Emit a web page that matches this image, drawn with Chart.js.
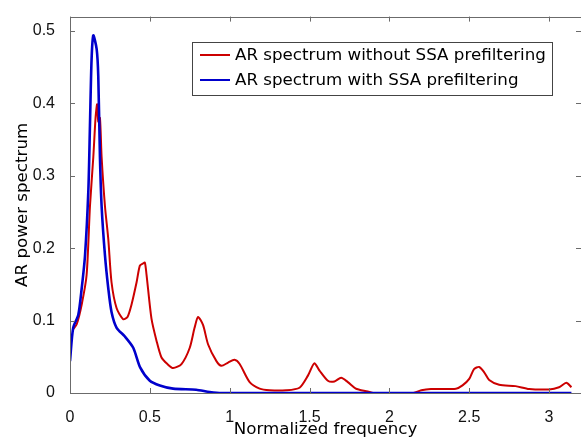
<!DOCTYPE html>
<html>
<head>
<meta charset="utf-8">
<script src="https://cdn.jsdelivr.net/npm/chart.js@4"></script>
<style>
html,body{margin:0;padding:0;background:#fff;}
#wrap{width:581px;height:440px;}
</style>
</head>
<body>
<div id="wrap"><canvas id="spec" width="581" height="440"></canvas></div>
<script>
// red: AR spectrum without SSA prefiltering
let redFreq=[0.02,0.042,0.073,0.104,0.125,0.146,0.16,0.17,0.177,0.1875,0.198,0.219,0.24,0.26,0.292,0.333,0.36,0.385,0.417,0.4375,0.458,0.469,0.479,0.51,0.542,0.573,0.61,0.646,0.698,0.75,0.78,0.802,0.833,0.865,0.917,0.948,0.99,1.03,1.0625,1.125,1.1875,1.25,1.354,1.4375,1.49,1.53,1.5625,1.615,1.656,1.698,1.74,1.79,1.8125,1.865,1.9,2.15,2.2,2.26,2.417,2.458,2.5,2.53,2.5625,2.594,2.625,2.6875,2.79,2.875,3.0,3.0625,3.108,3.14];
let redPower=[0.088,0.095,0.122,0.163,0.258,0.326,0.38,0.399,0.375,0.38,0.326,0.258,0.212,0.153,0.117,0.102,0.105,0.122,0.153,0.176,0.179,0.18,0.164,0.103,0.072,0.049,0.04,0.0345,0.04,0.0625,0.09,0.105,0.094,0.067,0.044,0.0376,0.042,0.0458,0.04,0.015,0.006,0.0037,0.0037,0.0073,0.024,0.041,0.031,0.017,0.016,0.021,0.015,0.006,0.0046,0.002,0,0,0.0037,0.0055,0.006,0.0105,0.0195,0.033,0.036,0.0285,0.018,0.0114,0.0095,0.0055,0.005,0.008,0.014,0.008];
// blue: AR spectrum with SSA prefiltering
let blueFreq=[0,0.02,0.052,0.073,0.094,0.115,0.125,0.135,0.146,0.167,0.177,0.1875,0.198,0.219,0.24,0.26,0.292,0.344,0.396,0.44,0.5,0.5625,0.646,0.79,0.875,0.95,3.14];
let bluePower=[0.044,0.09,0.108,0.144,0.19,0.28,0.37,0.46,0.494,0.475,0.438,0.326,0.258,0.19,0.144,0.112,0.09,0.078,0.0625,0.035,0.017,0.0105,0.006,0.0045,0.0014,0,0];

let seriesNames=["AR spectrum without SSA prefiltering","AR spectrum with SSA prefiltering"];
let xTicks=[0,0.5,1,1.5,2,2.5,3];
let yTicks=[0,0.1,0.2,0.3,0.4,0.5];

const pairs=(xs,ys)=>xs.map((x,i)=>({x:x,y:ys[i]}));
const frameCol="#6b6b6b";
const tickFont={family:"'Liberation Sans', Arial, sans-serif",size:16};
const titleFont={family:"'DejaVu Sans', sans-serif",size:16.7};

// box, inward ticks and legend drawn over the plot
const framePlugin={
  id:"frame",
  afterDraw(chart){
    let c=chart.ctx, a=chart.chartArea, sx=chart.scales.x, sy=chart.scales.y;
    c.save();
    c.strokeStyle=frameCol; c.lineWidth=1;
    c.strokeRect(Math.round(a.left)+0.5,Math.round(a.top)+0.5,Math.round(a.right-a.left),Math.round(a.bottom-a.top));
    c.beginPath();
    xTicks.forEach(v=>{
      let p=Math.round(sx.getPixelForValue(v))+0.5;
      c.moveTo(p,a.bottom); c.lineTo(p,a.bottom-5);
      c.moveTo(p,a.top); c.lineTo(p,a.top+5);
    });
    yTicks.forEach(v=>{
      let p=Math.round(sy.getPixelForValue(v))+0.5;
      c.moveTo(a.left,p); c.lineTo(a.left+5,p);
      c.moveTo(a.right,p); c.lineTo(a.right-5,p);
    });
    c.stroke();
    // legend
    let bx=192.5, by=42.5, bw=360, bh=53;
    c.fillStyle="#fff"; c.fillRect(bx,by,bw,bh);
    c.strokeStyle="#444"; c.strokeRect(bx,by,bw,bh);
    c.font="16.7px 'DejaVu Sans', sans-serif";
    c.textBaseline="middle";
    chart.data.datasets.forEach((ds,i)=>{
      let ly=55+i*25;
      c.strokeStyle=ds.borderColor; c.lineWidth=2;
      c.beginPath(); c.moveTo(200,ly); c.lineTo(230,ly); c.stroke();
      c.fillStyle="#000";
      c.fillText(ds.label,235,ly+1);
    });
    c.restore();
  }
};

new Chart(document.getElementById("spec"),{
  type:"line",
  data:{datasets:[
    {label:seriesNames[0],data:pairs(redFreq,redPower),borderColor:"#cc0000",borderWidth:2,pointRadius:0,tension:0.25,order:2},
    {label:seriesNames[1],data:pairs(blueFreq,bluePower),borderColor:"#0000cc",borderWidth:2.6,pointRadius:0,tension:0.25,order:1}
  ]},
  options:{
    responsive:false,animation:false,
    layout:{padding:{top:10,right:-1,left:0,bottom:0}},
    plugins:{legend:{display:false},tooltip:{enabled:false}},
    scales:{
      x:{type:"linear",min:0,max:3.2,
        grid:{display:false},border:{display:false},
        afterFit:s=>{s.height=47;},
        afterBuildTicks:s=>{s.ticks=xTicks.map(v=>({value:v}));},
        ticks:{padding:7,color:"#111",font:tickFont,maxRotation:0,callback:v=>String(v)},
        title:{display:true,text:"Normalized frequency",color:"#000",font:titleFont,padding:{top:0,bottom:0}}},
      y:{min:0,max:0.52,
        grid:{display:false},border:{display:false},
        afterFit:s=>{s.width=70;},
        afterBuildTicks:s=>{s.ticks=yTicks.map(v=>({value:v}));},
        ticks:{padding:7,color:"#111",font:tickFont,callback:v=>String(v)},
        title:{display:true,text:"AR power spectrum",color:"#000",font:titleFont,padding:{top:13,bottom:0}}}
    }
  },
  plugins:[framePlugin]
});
</script>
</body>
</html>
